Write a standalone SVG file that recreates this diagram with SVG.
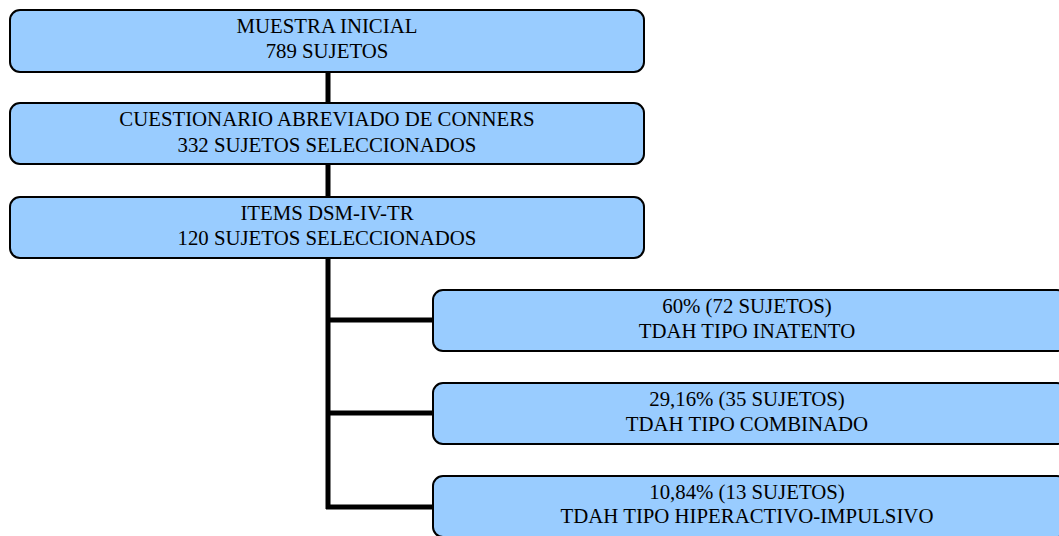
<svg xmlns="http://www.w3.org/2000/svg" width="1059" height="536" viewBox="0 0 1059 536">
<style>
.box{fill:#99CCFF;stroke:#000;stroke-width:2}
.t{font-family:"Liberation Serif","Times New Roman",serif;font-size:20.8px;fill:#000;text-anchor:middle}
.c{stroke:#000;stroke-width:5;fill:none}
</style>
<rect width="1059" height="536" fill="#fff"/>
<g id="connectors">
<line class="c" x1="328" y1="72" x2="328" y2="509"/>
<line class="c" x1="326" y1="320" x2="434" y2="320"/>
<line class="c" x1="326" y1="413" x2="434" y2="413"/>
<line class="c" x1="326" y1="507" x2="434" y2="507"/>
</g>
<g id="n1">
<rect class="box" x="10" y="10" width="634" height="62" rx="10"/>
<text class="t" x="327" y="33">MUESTRA INICIAL</text>
<text class="t" x="327" y="58">789 SUJETOS</text>
</g>
<g id="n2">
<rect class="box" x="10" y="103" width="634" height="61" rx="10"/>
<text class="t" x="327" y="126">CUESTIONARIO ABREVIADO DE CONNERS</text>
<text class="t" x="327" y="152">332 SUJETOS SELECCIONADOS</text>
</g>
<g id="n3">
<rect class="box" x="10" y="197" width="634" height="61" rx="10"/>
<text class="t" x="327" y="220">ITEMS DSM-IV-TR</text>
<text class="t" x="327" y="245">120 SUJETOS SELECCIONADOS</text>
</g>
<g id="n4">
<rect class="box" x="433" y="290" width="634" height="61" rx="10"/>
<text class="t" x="747" y="313">60% (72 SUJETOS)</text>
<text class="t" x="747" y="338">TDAH TIPO INATENTO</text>
</g>
<g id="n5">
<rect class="box" x="433" y="383" width="634" height="61" rx="10"/>
<text class="t" x="747" y="406">29,16% (35 SUJETOS)</text>
<text class="t" x="747" y="431">TDAH TIPO COMBINADO</text>
</g>
<g id="n6">
<rect class="box" x="433" y="476" width="634" height="61" rx="10"/>
<text class="t" x="747" y="499">10,84% (13 SUJETOS)</text>
<text class="t" x="747" y="523">TDAH TIPO HIPERACTIVO-IMPULSIVO</text>
</g>
</svg>
